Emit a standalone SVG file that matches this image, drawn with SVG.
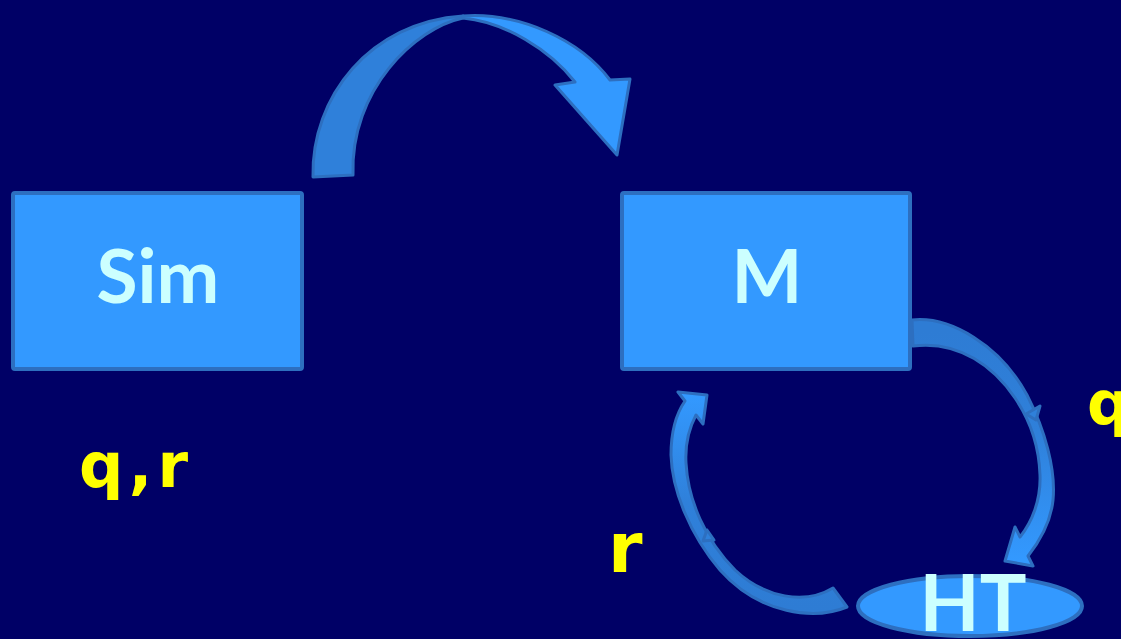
<svg xmlns="http://www.w3.org/2000/svg" width="1121" height="639" viewBox="0 0 1121 639">
  <defs>
    <style>
      .box { fill: #3399FF; stroke: #2D6FC0; stroke-width: 4; }
      .arrow { stroke: #2D6FC0; stroke-width: 3; stroke-linejoin: round; }
      .node-text { font-family: "Lato", "DejaVu Sans", sans-serif; font-weight: 700; fill: #CCFFFF; text-anchor: middle; }
      .label { font-family: "DejaVu Sans", "Lato", sans-serif; font-weight: 700; fill: #FFFF00; }
    </style>
    <linearGradient id="gradDown" gradientUnits="userSpaceOnUse" x1="0" y1="330" x2="0" y2="560">
      <stop offset="0" stop-color="#2E7CD4"/>
      <stop offset="0.45" stop-color="#2F80DA"/>
      <stop offset="1" stop-color="#3399FF"/>
    </linearGradient>
    <linearGradient id="gradUp" gradientUnits="userSpaceOnUse" x1="0" y1="610" x2="0" y2="395">
      <stop offset="0" stop-color="#2E7CD4"/>
      <stop offset="0.5" stop-color="#2F80DA"/>
      <stop offset="1" stop-color="#3399FF"/>
    </linearGradient>
  </defs>

  <rect x="0" y="0" width="1121" height="639" fill="#000066"/>

  <g id="connectors">
    <!-- Sim -> M: large curved arrow over the top -->
    <g id="arrow-sim-m">
      <path class="arrow" fill="#2F80DA" d="M313,177 C311,97 370,22 463,16 L463,18 C415,28 350,90 353,175 Z"/>
      <path class="arrow" fill="#3399FF" d="M463,16 C520,12 580,40 610,80 L630,79 L617,155 L555,85 L575,82 C550,50 505,22 463,18 Z"/>
    </g>
    <!-- M -> HT: curved arrow down the right side -->
    <g id="arrow-m-ht">
      <path class="arrow" fill="url(#gradDown)" d="M912,320 C950,316 1000,345 1027,395 C1045,430 1056,470 1053,500 C1051,520 1043,537 1028,556 L1033,566 L1005,561 L1015,527 L1020,537 C1032,522 1041,500 1040,475 C1039,445 1030,420 1015,398 C995,368 960,340 913,346 Z"/>
      <path class="arrow" fill="#2F80DA" stroke-width="2" d="M1026,414 L1040,406 L1036,420 Z"/>
    </g>
    <!-- HT -> M: curved arrow back up the left side -->
    <g id="arrow-ht-m">
      <path class="arrow" fill="url(#gradUp)" d="M847,607 C815,620 760,615 720,570 C690,535 672,490 671,455 C671,430 676,414 685,401 L678,392 L707,395 L703,424 L696,415 C688,430 685,445 686,463 C688,500 705,540 735,570 C765,598 805,605 833,588 Z"/>
      <path class="arrow" fill="#2F80DA" stroke-width="2" d="M703,541 L707,530 L714,540 Z"/>
    </g>
  </g>

  <g id="node-sim">
    <rect class="box" x="13" y="193" width="289" height="176" rx="2"/>
    <text class="node-text" x="158" y="303" font-size="75">Sim</text>
  </g>

  <g id="node-m">
    <rect class="box" x="622" y="193" width="288" height="176" rx="2"/>
    <text class="node-text" x="767" y="303" font-size="75">M</text>
  </g>

  <g id="node-ht">
    <ellipse class="box" cx="970" cy="606" rx="112" ry="30"/>
    <text class="node-text" x="973" y="631" font-size="78">HT</text>
  </g>

  <g id="labels">
    <text class="label" x="79" y="487" font-size="62" textLength="109" lengthAdjust="spacing">q,r</text>
    <text class="label" x="608" y="572" font-size="70">r</text>
    <text class="label" x="1087" y="424" font-size="60">q</text>
  </g>
</svg>
